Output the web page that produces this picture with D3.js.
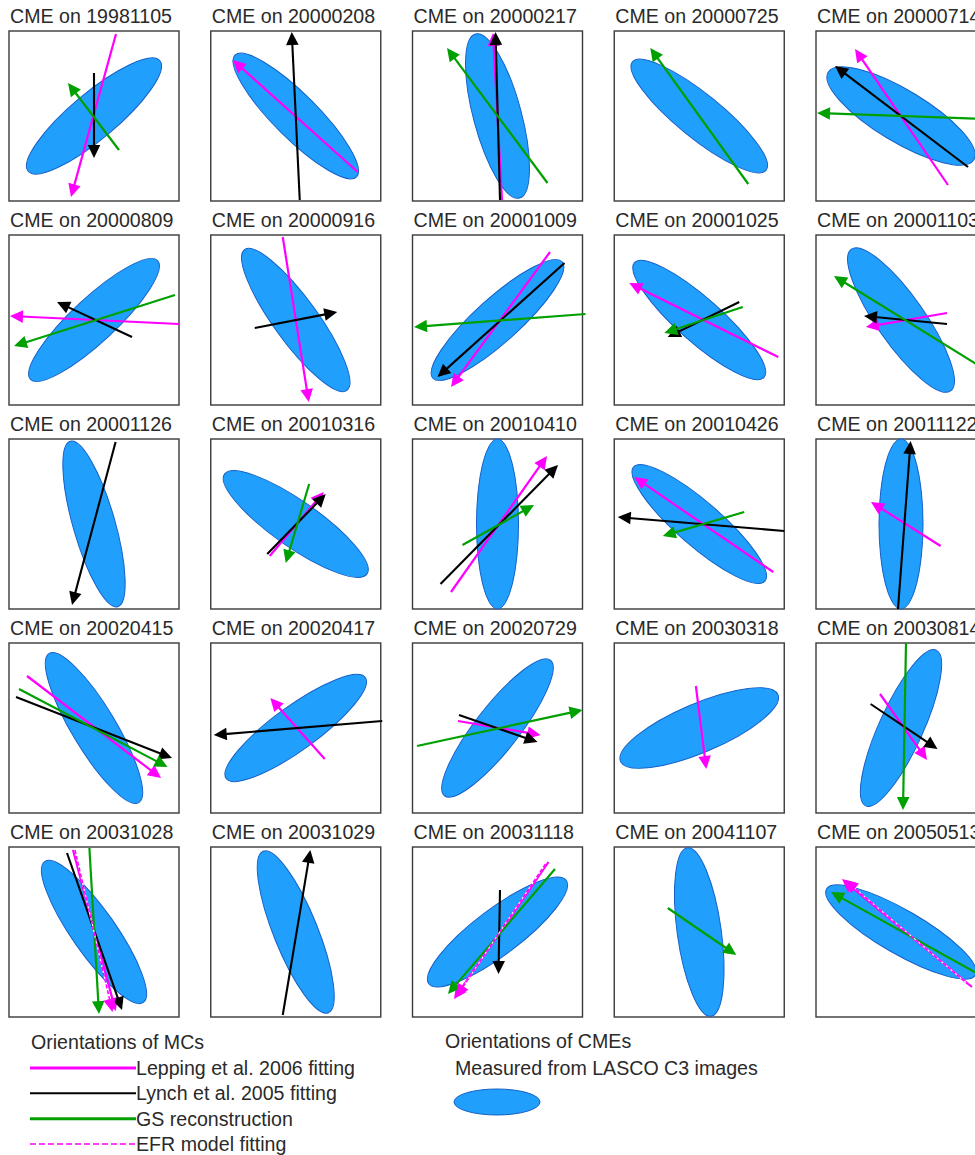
<!DOCTYPE html>
<html>
<head>
<meta charset="utf-8">
<script src="https://cdn.jsdelivr.net/npm/d3@7"></script>
<style>
  html, body { margin: 0; padding: 0; background: #fff; }
  svg { display: block; }
  text { font-family: "Liberation Sans", Arial, Helvetica, sans-serif; fill: #2a2a2a; }
</style>
</head>
<body>
<svg id="chart" width="975" height="1155"></svg>
<script>
// ---------- DATA ----------
const dates = ["19981105","20000208","20000217","20000725","20000714",
               "20000809","20000916","20001009","20001025","20001103",
               "20001126","20010316","20010410","20010426","20011122",
               "20020415","20020417","20020729","20030318","20030814",
               "20031028","20031029","20031118","20041107","20050513"];

// CME ellipse orientation (degrees, counter-clockwise from horizontal), semi-axes in panel units
const ellipseAngle = [40, -45, 105, -39, -31,
                      43, -54, 42, -41.5, -55,
                      106, -35, 90, -41, 90,
                      121, 36, 52, 23, 65.6,
                      125, 112, 37, 98, -30];
const ellipseMajor = [86, 86, 85, 86, 85,
                      87, 87, 87, 86.5, 86.5,
                      86, 87, 85, 87, 85,
                      87, 86, 86, 85.5, 85.5,
                      86, 87, 86, 85, 86];
const ellipseMinor = [23, 22, 24, 22, 26,
                      22, 22, 22, 22, 24,
                      21, 23, 21, 22, 22,
                      22, 22, 22, 24.5, 22,
                      22, 22, 23, 22, 22];

// MC orientation arrows: [panel, tailX, tailY, headX, headY] in panel units (-85..85)
const lepping = [
  [0, 22, 82, -23, -81], [1, 62, -56, -63, 56], [2, 4.5, -84, -4.5, 83],
  [4, 47, -69, -46, 67], [5, 85, -4, -84, 4], [6, -13, 83, 13, -82],
  [7, 52.5, 68, -46.5, -67], [8, 79, -37, -70, 37], [9, 46, 7, -35, -7],
  [11, -26, -32, 28, 32], [12, -46.5, -68, 49.5, 68], [13, 74, -48, -65, 47],
  [14, 39.6, -22, -30, 22], [15, -67, 52, 67, -50], [16, 29, -31, -25.4, 30],
  [17, -39.5, 7, 43, -7], [18, -3.4, 42, 7, -41], [19, -21, 34, 26, -32],
  [20, -21, 82, 21.6, -79], [22, 51, 70, -43.5, -67], [24, 71, -55, -59, 53]
];
const lynch = [
  [0, 0, 43, 0, -42], [1, 4, -84, -4, 84], [2, 2.5, -84, -2, 84],
  [4, 67, -51, -66, 50], [5, 38, -17, -37, 18], [6, -41, -8, 41.5, 8],
  [7, 67, 57, -60, -57], [8, 40, 18, -31.5, -17], [9, 46, -4, -37, 4],
  [10, 21.6, 82, -22, -81], [11, -28.5, -30, 30, 30], [12, -57, -60, 60.5, 59],
  [13, 85, -7, -81.5, 7], [14, -3, -85, 9.6, 83], [15, -78, 31, 78, -30],
  [16, 86.5, 7, -82, -7], [17, -38.5, 13, 40, -14], [19, -30.4, 24, 36.5, -21],
  [20, -27, 79, 28, -78], [21, -13, -83, 14.6, 82], [22, 2.5, 42, 1, -42]
];
const gsRecon = [
  [0, 25, -34, -26, 33], [2, 50, -67, -50.5, 68], [3, 49, -68, -49, 68],
  [4, 84, -3, -84, 3], [5, 81, 25, -80, -26], [7, 88, 6, -83.5, -7],
  [8, 43.5, 13, -35, -13], [9, 80, -47, -67, 44], [11, 13.4, 40, -10, -39],
  [12, -35, -21, 36.5, 19], [13, 45, 12, -36.5, -12], [15, -75, 39, 73.5, -39],
  [17, -80.5, -18, 85, 18], [19, 5, 85, 2, -82], [20, -4.6, 84, 5, -82],
  [22, 57.5, 63, -49.5, -62], [23, -31.5, 24, 37, -23], [24, 86, -47, -70, 40]
];
const efr = [
  [20, -19, 82, 18.5, -80], [22, 48, 68, -41.5, -65], [24, 68, -53, -56, 52]
];

const legendTitleMC = "Orientations of MCs";
const legendLabels = ["Lepping et al. 2006 fitting", "Lynch et al. 2005 fitting",
                      "GS reconstruction", "EFR model fitting"];
const legendTitleCME = "Orientations of CMEs";
const legendCMELabel = "Measured from LASCO C3 images";

// ---------- STYLE ----------
const MAGENTA = "#ff00ff", BLACK = "#000000", GREEN = "#00a000";
const ELL_FILL = "#20a0fc", ELL_STROKE = "#1560c8";
const FS = 19.6;

const svg = d3.select("#chart");
const ncol = 5, size = 170;
const colScale = d3.scaleLinear().domain([0, 4]).range([9, 816]);
const rowScale = d3.scaleLinear().domain([0, 4]).range([31, 847]);

const panels = dates.map((d, i) => {
  const c = i % ncol, r = Math.floor(i / ncol);
  const x0 = colScale(c), y0 = rowScale(r);
  return {
    i, date: d, x0, y0,
    x: d3.scaleLinear().domain([-85, 85]).range([x0, x0 + size]),
    y: d3.scaleLinear().domain([-85, 85]).range([y0 + size, y0])
  };
});

function arrow(g, p, rec, color, width, dashed) {
  const [_, tx, ty, hx, hy] = rec;
  const x1 = p.x(tx), y1 = p.y(ty), x2 = p.x(hx), y2 = p.y(hy);
  const dx = x2 - x1, dy = y2 - y1, len = Math.hypot(dx, dy);
  const ux = dx / len, uy = dy / len, nx = -uy, ny = ux;
  const L = 13, w = 6.3;
  const bx = x2 - ux * L, by = y2 - uy * L;
  if (dashed) {
    g.append("line").attr("x1", x1).attr("y1", y1).attr("x2", bx).attr("y2", by)
      .attr("stroke", "#ffffff").attr("stroke-width", 1.2);
    g.append("line").attr("x1", x1).attr("y1", y1).attr("x2", bx).attr("y2", by)
      .attr("stroke", color).attr("stroke-width", 1.5).attr("stroke-dasharray", "4,2");
  } else {
    g.append("line").attr("x1", x1).attr("y1", y1).attr("x2", bx + ux * 2).attr("y2", by + uy * 2)
      .attr("stroke", color).attr("stroke-width", width);
  }
  g.append("path")
    .attr("d", `M${x2},${y2}L${bx + nx * w},${by + ny * w}L${bx - nx * w},${by - ny * w}Z`)
    .attr("fill", color);
}

panels.forEach(p => {
  const g = svg.append("g");
  g.append("text").attr("x", p.x0 + 1).attr("y", p.y0 - 8)
    .attr("font-size", FS).text("CME on " + p.date);
  g.append("rect").attr("x", p.x0).attr("y", p.y0).attr("width", size).attr("height", size)
    .attr("fill", "#fff").attr("stroke", "#3a3a3a").attr("stroke-width", 1.4);
  const cx = p.x(0), cy = p.y(0);
  g.append("ellipse")
    .attr("cx", cx).attr("cy", cy)
    .attr("rx", p.x(ellipseMajor[p.i]) - p.x(0))
    .attr("ry", p.x(ellipseMinor[p.i]) - p.x(0))
    .attr("transform", `rotate(${-ellipseAngle[p.i]},${cx},${cy})`)
    .attr("fill", ELL_FILL).attr("stroke", ELL_STROKE).attr("stroke-width", 1);
  lepping.filter(a => a[0] === p.i).forEach(a => arrow(g, p, a, MAGENTA, 2.2, false));
  lynch.filter(a => a[0] === p.i).forEach(a => arrow(g, p, a, BLACK, 2.1, false));
  gsRecon.filter(a => a[0] === p.i).forEach(a => arrow(g, p, a, GREEN, 2.2, false));
  efr.filter(a => a[0] === p.i).forEach(a => arrow(g, p, a, MAGENTA, 1.5, true));
});

// ---------- LEGEND ----------
const lg = svg.append("g");
lg.append("text").attr("x", 31).attr("y", 1049).attr("font-size", FS).text(legendTitleMC);
const legColors = [MAGENTA, BLACK, GREEN, MAGENTA];
const legWidths = [3, 2, 3, 1.5];
const legY = d3.scaleLinear().domain([0, 3]).range([1068, 1144]);
legendLabels.forEach((lab, k) => {
  const yy = legY(k);
  const ln = lg.append("line").attr("x1", 30).attr("x2", 136).attr("y1", yy).attr("y2", yy)
    .attr("stroke", legColors[k]).attr("stroke-width", legWidths[k]);
  if (k === 3) ln.attr("stroke-dasharray", "6,3");
  lg.append("text").attr("x", 136).attr("y", yy + 7).attr("font-size", FS).text(lab);
});
lg.append("text").attr("x", 445).attr("y", 1048).attr("font-size", FS).text(legendTitleCME);
lg.append("text").attr("x", 455).attr("y", 1075).attr("font-size", FS).text(legendCMELabel);
lg.append("ellipse").attr("cx", 497).attr("cy", 1102).attr("rx", 43).attr("ry", 13)
  .attr("fill", ELL_FILL).attr("stroke", ELL_STROKE).attr("stroke-width", 1);
</script>
</body>
</html>
